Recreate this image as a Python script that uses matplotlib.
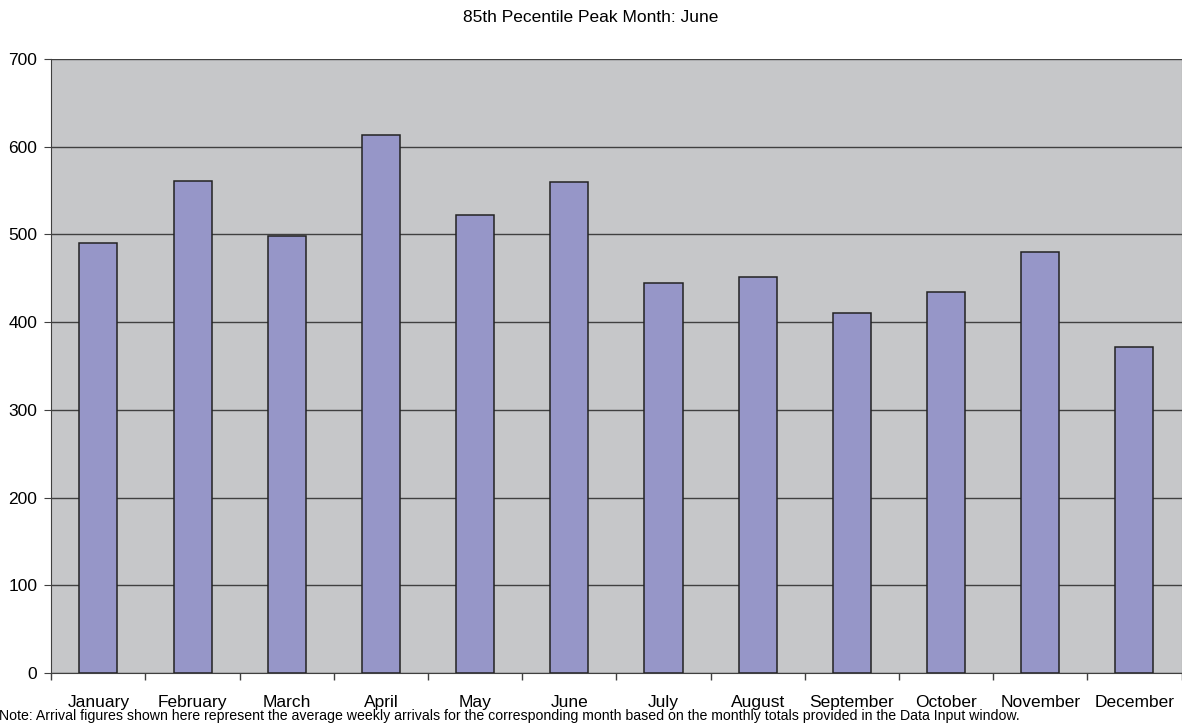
import numpy as np
import matplotlib.pyplot as plt

months = ['January', 'February', 'March', 'April', 'May', 'June',
          'July', 'August', 'September', 'October', 'November', 'December']
arrivals = [490, 561, 498, 613, 522, 560, 445, 452, 410, 434, 480, 372]
yticks = [0, 100, 200, 300, 400, 500, 600, 700]

title = '85th Pecentile Peak Month: June'
note = ('Note: Arrival figures shown here represent the average weekly arrivals for the '
        'corresponding month based on the monthly totals provided in the Data Input window.')

plt.rcParams['font.family'] = ['Liberation Sans', 'DejaVu Sans']

fig = plt.figure(figsize=(11.82, 7.24), dpi=100)
ax = fig.add_axes([51.3 / 1182, 1 - 673.2 / 724, (1181.5 - 51.3) / 1182, (673.2 - 59) / 724])

x = np.arange(len(months))
ax.set_facecolor('#c6c7c9')
ax.bar(x, arrivals, width=0.404, color='#9696c8', edgecolor='#222222', linewidth=1.1, zorder=3)

ax.set_xlim(-0.5, len(months) - 0.5)
ax.set_ylim(0, 700)
ax.set_yticks(yticks)
ax.yaxis.grid(True, color='#404040', linewidth=1.0, zorder=1)

# month names sit between the boundary ticks
ax.set_xticks(x)
ax.set_xticklabels(months, fontsize=12.5)
ax.tick_params(axis='x', length=0, pad=15.5)
ax.set_xticks(np.arange(len(months) + 1) - 0.5, minor=True)
ax.tick_params(axis='x', which='minor', length=5, color='#404040', width=1)
ax.tick_params(axis='y', labelsize=12.5, length=5, color='#404040', pad=5)

for side in ['left', 'bottom']:
    ax.spines[side].set_color('#404040')
ax.spines['top'].set_visible(False)
ax.spines['right'].set_color('#808080')

fig.text(0.5, 1 - 17 / 724, title, ha='center', va='center', fontsize=12.5)
fig.text(-0.001, 1 - 716 / 724, note, ha='left', va='center', fontsize=10.2)

fig.savefig('out.png', dpi=100, facecolor='white')
